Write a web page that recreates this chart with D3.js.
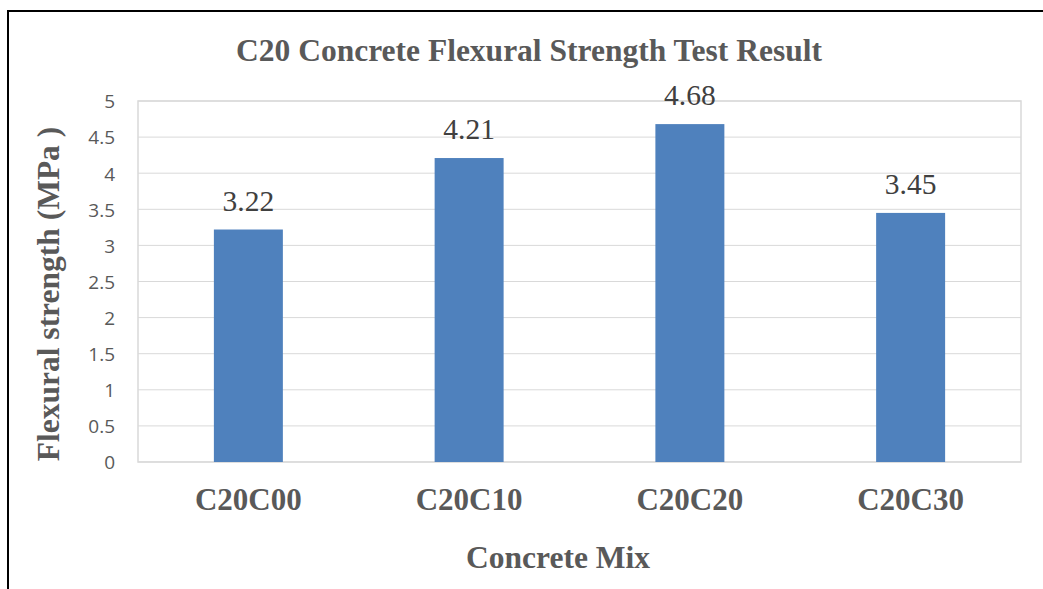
<!DOCTYPE html>
<html>
<head>
<meta charset="utf-8">
<script src="https://cdn.jsdelivr.net/npm/d3@7"></script>
<style>
  html, body { margin: 0; padding: 0; background: #fff; }
  svg { display: block; }
</style>
</head>
<body>
<svg id="chart" width="1043" height="589"></svg>
<script>
const categories = ["C20C00", "C20C10", "C20C20", "C20C30"];
const values = [3.22, 4.21, 4.68, 3.45];
const yTicks = [0, 0.5, 1, 1.5, 2, 2.5, 3, 3.5, 4, 4.5, 5];
const chartTitle = "C20 Concrete Flexural Strength Test Result";
const xTitle = "Concrete Mix";
const yTitle = "Flexural strength (MPa )";

const svg = d3.select("#chart");
const W = 1043, H = 589;
const plot = { left: 138, top: 101, right: 1021, bottom: 462 };
const serif = "'Liberation Serif', 'Times New Roman', serif";
const sans = "'Open Sans', 'Liberation Sans', sans-serif";
const gray = "#595959";

// outer frame
svg.append("rect")
  .attr("x", 8).attr("y", 11)
  .attr("width", W + 20).attr("height", H + 20)
  .attr("fill", "none").attr("stroke", "#000").attr("stroke-width", 2);

const x = d3.scaleBand().domain(categories)
  .range([plot.left, plot.right]).paddingInner(0.6875).paddingOuter(0.34375);
const y = d3.scaleLinear().domain([0, 5]).range([plot.bottom, plot.top]);

// gridlines
svg.append("g").selectAll("line").data(yTicks).join("line")
  .attr("x1", plot.left).attr("x2", plot.right)
  .attr("y1", d => y(d)).attr("y2", d => y(d))
  .attr("stroke", "#d9d9d9").attr("stroke-width", 1);

// plot border
svg.append("rect")
  .attr("x", plot.left).attr("y", plot.top)
  .attr("width", plot.right - plot.left).attr("height", plot.bottom - plot.top)
  .attr("fill", "none").attr("stroke", "#d9d9d9").attr("stroke-width", 1.5);

// bars
svg.append("g").selectAll("rect").data(values).join("rect")
  .attr("x", (d, i) => x(categories[i]))
  .attr("width", x.bandwidth())
  .attr("y", d => y(d))
  .attr("height", d => y(0) - y(d))
  .attr("fill", "#4f81bd");

// data labels
svg.append("g").selectAll("text").data(values).join("text")
  .attr("x", (d, i) => x(categories[i]) + x.bandwidth() / 2)
  .attr("y", d => y(d) - 19)
  .attr("text-anchor", "middle")
  .attr("font-family", serif).attr("font-size", 29.5)
  .attr("fill", "#404040")
  .text(d => d.toFixed(2));

// y axis (labels only)
const yAxis = d3.axisLeft(y).tickValues(yTicks).tickSize(0).tickPadding(0)
  .tickFormat(d => String(d));
const yg = svg.append("g").attr("transform", `translate(${115},0)`).call(yAxis);
yg.select(".domain").remove();
yg.selectAll("text").attr("font-family", sans).attr("font-size", 19)
  .attr("fill", gray).attr("dy", "0.36em");

// x axis labels
const xAxis = d3.axisBottom(x).tickSize(0).tickPadding(0);
const xg = svg.append("g").attr("transform", `translate(0,${plot.bottom})`).call(xAxis);
xg.select(".domain").remove();
xg.selectAll("text").attr("font-family", serif).attr("font-size", 31)
  .attr("font-weight", "bold").attr("fill", gray)
  .attr("y", 48).attr("dy", 0);

// title
svg.append("text")
  .attr("x", 529).attr("y", 61)
  .attr("text-anchor", "middle")
  .attr("font-family", serif).attr("font-size", 31.5).attr("font-weight", "bold")
  .attr("fill", gray).text(chartTitle);

// x title
svg.append("text")
  .attr("x", 558).attr("y", 568)
  .attr("text-anchor", "middle")
  .attr("font-family", serif).attr("font-size", 31.5).attr("font-weight", "bold")
  .attr("fill", gray).text(xTitle);

// y title
svg.append("text")
  .attr("transform", `translate(59,294) rotate(-90)`)
  .attr("text-anchor", "middle")
  .attr("font-family", serif).attr("font-size", 31.5).attr("font-weight", "bold")
  .attr("fill", gray).text(yTitle);
</script>
</body>
</html>
